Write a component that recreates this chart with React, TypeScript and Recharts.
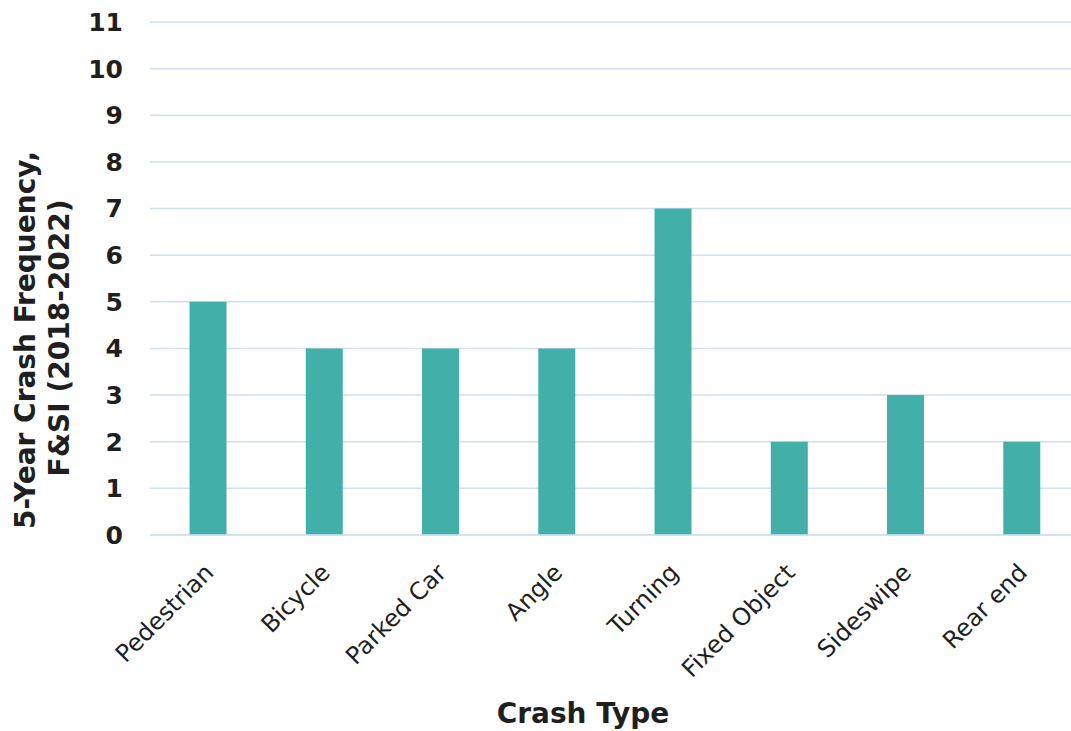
import React from 'react';
import { BarChart, Bar, XAxis, YAxis, CartesianGrid } from 'recharts';

const categories = ['Pedestrian', 'Bicycle', 'Parked Car', 'Angle', 'Turning', 'Fixed Object', 'Sideswipe', 'Rear end'];
const crashCounts = [5, 4, 4, 4, 7, 2, 3, 2];
const yTicks = [0, 1, 2, 3, 4, 5, 6, 7, 8, 9, 10, 11];

const data = categories.map((c, i) => ({ type: c, value: crashCounts[i] }));

const FONT = '"DejaVu Sans", Verdana, sans-serif';
const GRID = '#cfe1f1';
const BAR = '#43afa9';
const TEXT = '#1f1f1f';

const XTick = (props: any) => {
  const { x, y, payload } = props;
  return (
    <g transform={`translate(${x},${y})`}>
      <text
        x={7}
        y={39}
        transform="rotate(-45 7 39)"
        textAnchor="end"
        fontFamily={FONT}
        fontSize={24}
        fill={TEXT}
      >
        {payload.value}
      </text>
    </g>
  );
};

const XTitle = () => (
  <text x={583} y={723} textAnchor="middle" fontFamily={FONT} fontSize={28} fontWeight="bold" fill={TEXT}>
    Crash Type
  </text>
);

const YTitle = () => (
  <g>
    <text
      x={35}
      y={340}
      transform="rotate(-90 35 340)"
      textAnchor="middle"
      fontFamily={FONT}
      fontSize={28}
      fontWeight="bold"
      fill={TEXT}
    >
      5-Year Crash Frequency,
    </text>
    <text
      x={69}
      y={338}
      transform="rotate(-90 69 338)"
      textAnchor="middle"
      fontFamily={FONT}
      fontSize={28}
      fontWeight="bold"
      fill={TEXT}
    >
      F&amp;SI (2018-2022)
    </text>
  </g>
);

export default function App() {
  return (
    <div style={{ position: 'fixed', left: 0, top: 0, width: 1071, height: 731, overflow: 'hidden', background: '#fff' }}>
      <BarChart width={1080} height={731} data={data} margin={{ top: 22, right: 0, bottom: 0, left: 0 }} barCategoryGap="34%">
        <CartesianGrid vertical={false} stroke={GRID} strokeWidth={1.5} />
        <XAxis
          dataKey="type"
          interval={0}
          tick={<XTick />}
          tickLine={false}
          tickSize={0}
          tickMargin={0}
          axisLine={{ stroke: GRID, strokeWidth: 1.5 }}
          height={196}
          label={<XTitle />}
        />
        <YAxis
          domain={[0, 11]}
          ticks={yTicks}
          interval={0}
          width={150}
          axisLine={false}
          tickLine={false}
          tickSize={0}
          tickMargin={27}
          tick={{ fontFamily: FONT, fontSize: 25, fontWeight: 'bold', fill: TEXT }}
          label={<YTitle />}
        />
        <Bar dataKey="value" fill={BAR} isAnimationActive={false} />
      </BarChart>
    </div>
  );
}
